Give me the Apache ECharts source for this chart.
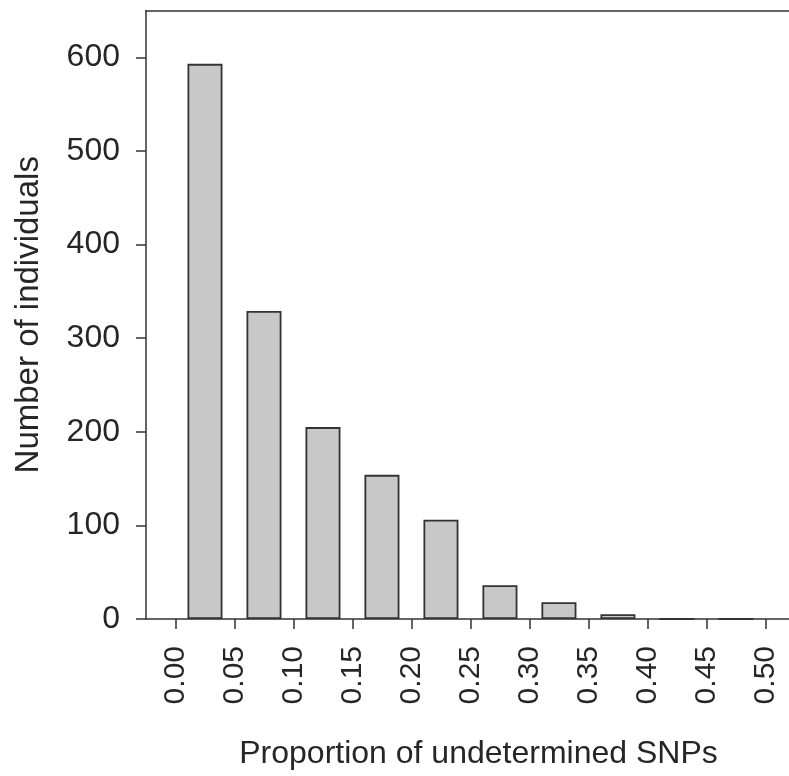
<!DOCTYPE html>
<html>
<head>
<meta charset="utf-8">
<title>Proportion of undetermined SNPs</title>
<script src="https://cdn.jsdelivr.net/npm/echarts@6/dist/echarts.min.js"></script>
<style>
  html, body { margin: 0; padding: 0; background: #fff; }
  #chart { width: 789px; height: 776px; }
</style>
</head>
<body>
<div id="chart"></div>
<script>
// bin centres (proportion of undetermined SNPs) and counts per bin
var binMids = [0.025, 0.075, 0.125, 0.175, 0.225, 0.275, 0.325, 0.375, 0.425, 0.475];
var counts = [593, 329, 205, 154, 106, 36, 18, 5, 0, 0];
var xTicks = [0, 0.05, 0.1, 0.15, 0.2, 0.25, 0.3, 0.35, 0.4, 0.45, 0.5];
var yTicks = [0, 100, 200, 300, 400, 500, 600];

var chart = echarts.init(document.getElementById('chart'));
var ink = '#333';
var textInk = '#262626';
var font = 'Liberation Sans, Arial, sans-serif';

var barData = [];
for (var i = 0; i < binMids.length; i++) {
  barData.push([binMids[i], counts[i]]);
}

chart.setOption({
  animation: false,
  backgroundColor: '#fff',
  grid: { left: 146, right: 0, top: 10.5, bottom: 157 },
  xAxis: [{
    type: 'value',
    min: -0.025,
    max: 0.52,
    position: 'bottom',
    splitLine: { show: false },
    axisLine: { show: true, onZero: false, lineStyle: { color: ink, width: 1.5 } },
    axisTick: { show: true, length: 10, customValues: xTicks, lineStyle: { color: ink, width: 1.5 } },
    axisLabel: {
      customValues: xTicks,
      rotate: 90,
      margin: 27,
      color: textInk,
      fontFamily: font,
      fontSize: 30,
      formatter: function (v) { return v.toFixed(2); }
    },
    name: 'Proportion of undetermined SNPs',
    nameLocation: 'middle',
    nameGap: 119,
    nameTextStyle: { color: textInk, fontFamily: font, fontSize: 32, padding: [0, 0, 0, 22] }
  }, {
    // top frame line
    type: 'value',
    min: -0.025,
    max: 0.52,
    position: 'top',
    splitLine: { show: false },
    axisLine: { show: true, onZero: false, lineStyle: { color: ink, width: 1.5 } },
    axisTick: { show: false },
    axisLabel: { show: false }
  }],
  yAxis: {
    type: 'value',
    min: 0,
    max: 650,
    splitLine: { show: false },
    axisLine: { show: true, onZero: false, lineStyle: { color: ink, width: 1.5 } },
    axisTick: { show: true, length: 10, customValues: yTicks, lineStyle: { color: ink, width: 1.5 } },
    axisLabel: {
      customValues: yTicks,
      margin: 26,
      color: textInk,
      fontFamily: font,
      fontSize: 32
    },
    name: 'Number of individuals',
    nameLocation: 'middle',
    nameGap: 101,
    nameTextStyle: { color: textInk, fontFamily: font, fontSize: 33 }
  },
  series: [{
    type: 'bar',
    xAxisIndex: 0,
    data: barData,
    barWidth: 35,
    itemStyle: { color: '#c8c8c8', borderColor: ink, borderWidth: 1.8 }
  }]
});
</script>
</body>
</html>
